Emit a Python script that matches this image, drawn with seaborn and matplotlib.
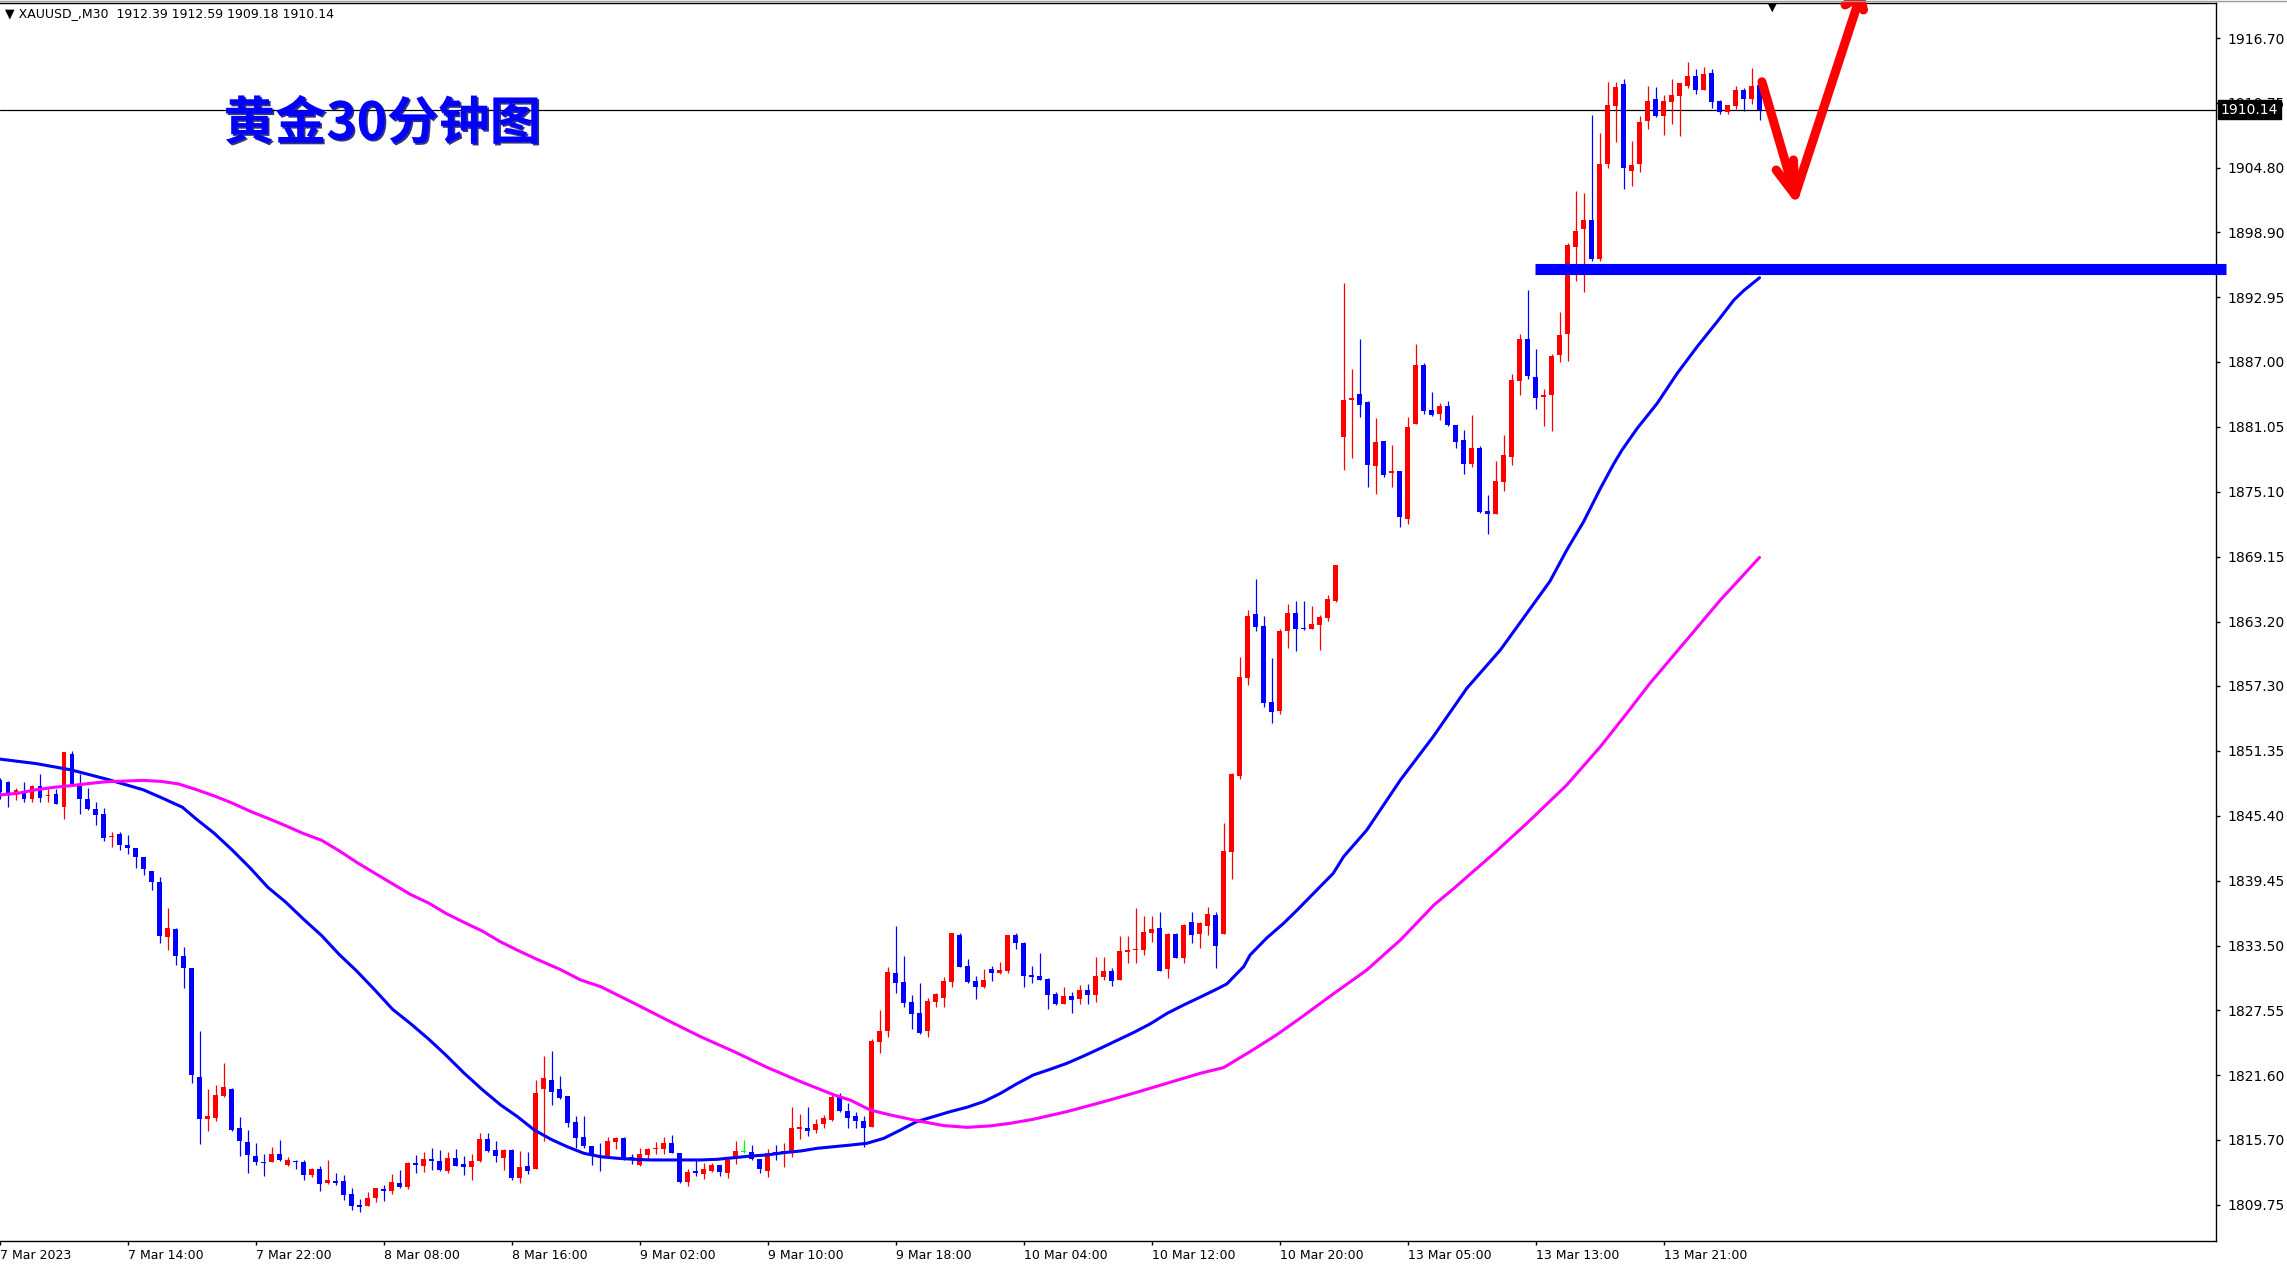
import numpy as np
import pandas as pd
import matplotlib
matplotlib.use('Agg')
import matplotlib.pyplot as plt
import matplotlib.transforms as mtransforms
import matplotlib.patheffects as pe
from matplotlib.lines import Line2D
import seaborn as sns

sns.set_style('white')
plt.rcParams['font.family'] = ['DejaVu Sans', 'Noto Sans CJK SC']

# ── DATA: XAUUSD M30 candles, 7 Mar 06:00 -> 14 Mar 03:00 ──
opens = [1848.70, 1848.48, 1847.30, 1847.62, 1846.97, 1848.10, 1847.17, 1847.39, 1846.24, 1851.08,
         1848.10, 1846.97, 1846.02, 1845.54, 1843.46, 1843.71, 1842.73, 1842.47, 1841.65, 1840.36,
         1839.31, 1834.29, 1835.00, 1832.57, 1831.48, 1821.43, 1817.63, 1817.73, 1819.73, 1820.36,
         1816.77, 1815.48, 1814.21, 1813.65, 1813.68, 1814.35, 1813.42, 1813.74, 1813.65, 1812.43,
         1813.00, 1811.76, 1811.91, 1811.91, 1810.76, 1809.74, 1809.58, 1810.38, 1811.15, 1811.02,
         1811.73, 1811.40, 1813.52, 1813.33, 1813.91, 1813.74, 1812.87, 1814.02, 1813.49, 1813.16,
         1813.74, 1815.75, 1814.76, 1814.05, 1814.75, 1812.22, 1813.29, 1812.98, 1820.32, 1821.17,
         1820.35, 1819.71, 1817.32, 1815.95, 1815.12, 1814.24, 1814.14, 1815.52, 1815.85, 1814.14,
         1813.38, 1814.30, 1814.85, 1814.88, 1815.40, 1814.45, 1811.85, 1812.83, 1812.59, 1812.83,
         1813.38, 1812.68, 1814.14, 1814.60, 1814.60, 1813.90, 1812.86, 1814.54, 1814.51, 1814.51,
         1816.65, 1816.77, 1816.59, 1817.11, 1817.50, 1819.58, 1818.33, 1817.87, 1817.41, 1816.89,
         1824.69, 1825.70, 1830.95, 1830.16, 1828.33, 1827.35, 1825.70, 1828.36, 1828.72, 1830.19,
         1834.47, 1831.63, 1830.25, 1829.67, 1831.35, 1831.01, 1831.20, 1834.47, 1833.76, 1830.80,
         1830.71, 1830.46, 1829.06, 1828.14, 1828.87, 1828.60, 1829.43, 1828.97, 1830.59, 1831.17,
         1830.34, 1832.94, 1833.12, 1833.09, 1834.68, 1835.08, 1831.32, 1834.56, 1832.39, 1835.63,
         1834.56, 1835.29, 1836.30, 1834.53, 1842.11, 1849.07, 1858.06, 1863.90, 1862.80, 1855.80,
         1855.03, 1862.37, 1864.02, 1862.61, 1862.52, 1862.89, 1863.56, 1865.09, 1880.15, 1883.54,
         1884.06, 1883.36, 1877.46, 1879.75, 1876.78, 1877.03, 1872.63, 1881.28, 1886.72, 1882.59,
         1882.22, 1882.96, 1881.22, 1879.84, 1877.64, 1879.11, 1873.30, 1873.06, 1876.02, 1878.31,
         1885.28, 1889.10, 1885.62, 1883.81, 1883.97, 1887.63, 1889.56, 1897.57, 1899.16, 1900.02,
         1896.44, 1905.12, 1910.50, 1912.49, 1904.54, 1905.12, 1909.12, 1911.08, 1909.58, 1910.87,
         1911.42, 1912.33, 1913.22, 1911.94, 1913.46, 1910.93, 1909.95, 1910.50, 1911.94, 1911.11,
         1912.39]
highs = [1848.90, 1848.58, 1847.94, 1848.48, 1848.25, 1849.22, 1847.85, 1847.85, 1851.20, 1851.29,
         1849.22, 1847.94, 1846.66, 1846.12, 1843.94, 1843.88, 1843.63, 1842.47, 1841.65, 1840.36,
         1839.79, 1836.98, 1835.12, 1833.33, 1831.48, 1825.63, 1820.36, 1820.70, 1822.71, 1820.46,
         1817.79, 1816.61, 1815.40, 1814.38, 1815.02, 1815.67, 1814.13, 1813.84, 1813.84, 1813.10,
         1813.33, 1813.84, 1812.61, 1812.46, 1811.27, 1810.25, 1810.87, 1811.27, 1811.56, 1812.54,
         1812.93, 1813.65, 1814.28, 1814.54, 1814.92, 1814.76, 1814.61, 1814.86, 1814.21, 1814.38,
         1816.29, 1816.29, 1815.60, 1814.82, 1814.82, 1814.66, 1814.60, 1821.17, 1823.37, 1823.83,
         1821.54, 1819.71, 1817.87, 1817.87, 1815.12, 1815.43, 1815.95, 1815.95, 1815.95, 1814.39,
         1814.91, 1814.97, 1815.46, 1815.98, 1816.13, 1814.51, 1812.98, 1813.84, 1813.53, 1813.59,
         1813.38, 1814.08, 1815.58, 1815.67, 1815.21, 1813.96, 1814.85, 1815.21, 1815.37, 1818.73,
         1818.03, 1818.73, 1817.57, 1817.96, 1819.95, 1819.95, 1819.09, 1818.21, 1817.87, 1824.90,
         1827.59, 1831.50, 1835.29, 1832.54, 1828.97, 1830.10, 1828.72, 1829.18, 1830.59, 1834.68,
         1834.68, 1832.27, 1830.71, 1831.35, 1831.63, 1831.99, 1834.47, 1834.62, 1833.86, 1831.63,
         1832.85, 1830.53, 1829.24, 1829.73, 1829.27, 1829.88, 1829.97, 1832.42, 1832.42, 1831.41,
         1834.38, 1834.38, 1836.91, 1836.21, 1836.21, 1836.55, 1834.68, 1834.68, 1835.48, 1836.55,
         1835.63, 1837.00, 1836.55, 1844.70, 1849.29, 1859.98, 1864.26, 1867.10, 1863.71, 1859.89,
         1862.49, 1864.81, 1865.09, 1865.09, 1864.63, 1863.80, 1865.64, 1868.39, 1894.20, 1886.35,
         1889.10, 1883.45, 1881.89, 1879.75, 1879.38, 1877.03, 1881.98, 1888.64, 1886.93, 1884.27,
         1883.26, 1883.42, 1881.22, 1880.76, 1882.13, 1879.29, 1874.80, 1877.92, 1880.30, 1885.89,
         1889.56, 1893.59, 1888.18, 1884.52, 1887.72, 1891.61, 1897.94, 1902.68, 1902.46, 1909.64,
         1907.96, 1912.70, 1912.70, 1912.94, 1907.26, 1909.58, 1912.30, 1912.18, 1911.48, 1912.94,
         1912.61, 1914.47, 1913.83, 1914.01, 1913.83, 1911.02, 1910.53, 1912.30, 1912.15, 1913.98,
         1912.59]
lows = [1846.90, 1846.24, 1846.82, 1846.66, 1846.66, 1846.66, 1846.66, 1846.43, 1845.06, 1848.32,
        1845.60, 1845.92, 1844.51, 1843.05, 1842.50, 1842.28, 1841.87, 1840.59, 1840.01, 1838.57,
        1833.72, 1833.07, 1831.70, 1829.57, 1820.93, 1815.33, 1816.51, 1817.41, 1819.59, 1816.51,
        1814.21, 1812.61, 1813.42, 1812.36, 1813.68, 1813.71, 1813.25, 1813.00, 1811.98, 1812.24,
        1811.02, 1811.66, 1811.56, 1810.21, 1809.26, 1809.10, 1809.58, 1809.97, 1810.06, 1810.70,
        1811.24, 1811.17, 1812.61, 1812.77, 1812.93, 1812.87, 1812.61, 1813.26, 1812.46, 1811.98,
        1813.65, 1814.54, 1813.65, 1812.92, 1812.00, 1811.76, 1812.52, 1812.98, 1815.58, 1818.88,
        1819.40, 1816.89, 1814.97, 1814.91, 1813.38, 1812.83, 1814.14, 1814.88, 1813.84, 1813.50,
        1813.32, 1814.05, 1814.36, 1814.36, 1814.51, 1811.76, 1811.48, 1812.40, 1812.13, 1812.77,
        1812.40, 1812.22, 1813.44, 1814.45, 1813.84, 1812.68, 1812.31, 1813.81, 1813.23, 1814.14,
        1815.79, 1816.07, 1816.28, 1816.80, 1817.44, 1818.21, 1816.80, 1816.80, 1815.06, 1816.89,
        1823.62, 1825.15, 1829.12, 1827.84, 1825.85, 1825.39, 1825.15, 1827.84, 1827.90, 1829.73,
        1831.56, 1830.04, 1828.63, 1829.64, 1830.28, 1830.86, 1830.95, 1833.18, 1829.73, 1830.10,
        1830.34, 1827.71, 1828.05, 1828.14, 1827.35, 1828.14, 1828.14, 1828.36, 1830.34, 1829.79,
        1830.34, 1831.93, 1831.93, 1832.63, 1833.86, 1831.20, 1830.56, 1832.33, 1831.87, 1833.76,
        1833.31, 1834.47, 1831.47, 1834.53, 1839.60, 1848.74, 1857.39, 1862.37, 1855.40, 1853.87,
        1854.70, 1860.81, 1860.53, 1862.43, 1862.52, 1860.60, 1863.28, 1865.03, 1877.09, 1878.22,
        1881.98, 1875.56, 1874.89, 1876.48, 1875.56, 1871.90, 1872.14, 1881.28, 1882.22, 1882.07,
        1881.67, 1881.15, 1879.14, 1876.72, 1877.40, 1873.12, 1871.22, 1873.06, 1875.17, 1877.55,
        1883.97, 1885.43, 1882.71, 1881.15, 1880.67, 1887.02, 1887.08, 1894.46, 1893.39, 1896.29,
        1896.29, 1904.75, 1907.20, 1902.86, 1903.17, 1904.45, 1908.36, 1909.43, 1907.81, 1908.82,
        1907.75, 1912.09, 1911.54, 1911.94, 1910.32, 1909.74, 1909.74, 1910.19, 1910.04, 1910.65,
        1909.18]
closes = [1847.60, 1847.52, 1847.78, 1846.97, 1848.15, 1847.07, 1847.24, 1846.43, 1851.20, 1848.32,
          1846.97, 1846.02, 1845.47, 1843.40, 1843.53, 1842.76, 1842.41, 1841.58, 1840.49, 1839.31,
          1834.35, 1835.12, 1832.53, 1831.40, 1821.63, 1817.63, 1817.83, 1819.79, 1820.52, 1816.61,
          1815.55, 1814.28, 1813.65, 1813.55, 1814.35, 1813.84, 1813.84, 1813.65, 1812.43, 1813.00,
          1811.66, 1811.98, 1811.76, 1810.59, 1809.58, 1809.55, 1810.32, 1811.27, 1811.02, 1811.81,
          1811.34, 1813.58, 1813.42, 1813.91, 1813.74, 1812.93, 1814.02, 1813.33, 1813.20, 1813.74,
          1815.75, 1814.70, 1814.16, 1814.75, 1812.16, 1813.17, 1812.86, 1819.95, 1821.33, 1820.10,
          1819.55, 1817.26, 1815.89, 1815.15, 1814.20, 1814.08, 1815.58, 1815.85, 1813.84, 1813.96,
          1814.39, 1814.85, 1814.94, 1815.40, 1814.51, 1811.82, 1812.74, 1812.68, 1813.01, 1813.38,
          1812.77, 1813.84, 1814.66, 1814.60, 1813.90, 1813.04, 1814.51, 1814.42, 1814.66, 1816.74,
          1816.89, 1816.53, 1817.14, 1817.72, 1819.58, 1818.36, 1817.72, 1817.44, 1816.80, 1824.75,
          1825.66, 1831.08, 1830.10, 1828.26, 1827.22, 1825.45, 1828.45, 1829.09, 1830.25, 1834.68,
          1831.56, 1830.19, 1829.73, 1830.34, 1831.01, 1831.26, 1834.47, 1833.70, 1830.71, 1830.65,
          1830.34, 1828.97, 1828.14, 1828.87, 1828.51, 1829.43, 1828.97, 1830.71, 1831.17, 1830.25,
          1833.00, 1833.09, 1833.18, 1834.77, 1835.02, 1831.20, 1834.56, 1832.33, 1835.38, 1834.47,
          1835.60, 1836.39, 1833.46, 1842.17, 1849.23, 1858.15, 1863.71, 1862.73, 1855.77, 1854.94,
          1862.37, 1864.02, 1862.52, 1862.52, 1862.98, 1863.59, 1865.27, 1868.39, 1883.51, 1883.72,
          1883.05, 1877.55, 1879.69, 1876.63, 1877.03, 1872.81, 1881.06, 1886.72, 1882.50, 1882.13,
          1882.96, 1881.25, 1879.69, 1877.64, 1879.11, 1873.21, 1873.06, 1876.11, 1878.47, 1885.34,
          1889.10, 1885.71, 1883.72, 1883.97, 1887.54, 1889.47, 1897.73, 1899.01, 1900.02, 1896.44,
          1905.15, 1910.56, 1912.18, 1904.75, 1905.06, 1908.97, 1910.93, 1909.58, 1910.93, 1911.48,
          1912.61, 1913.22, 1911.94, 1913.40, 1910.87, 1909.95, 1910.53, 1911.94, 1911.11, 1912.30,
          1910.14]

# moving averages (bar position, price)
ma_fast_bar = [0, 4.5, 8.9, 13.4, 17.9, 20.1, 22.8, 24.6, 26.8, 29.0, 31.3, 33.5, 35.7, 37.9, 40.2,
               42.4, 44.6, 46.9, 49.1, 51.3, 53.6, 55.8, 58.0, 60.3, 62.6, 64.7, 66.8, 68.9, 70.9,
               73.0, 75.1, 77.2, 79.3, 81.4, 83.4, 85.5, 87.6, 89.7, 91.8, 93.9, 95.9, 98.0, 100.1,
               102.2, 104.3, 106.4, 108.4, 110.5, 112.6, 114.6, 116.7, 118.8, 120.9, 123.0, 125.1,
               127.1, 129.2, 131.3, 133.4, 135.5, 137.6, 139.6, 141.7, 143.8, 145.9, 148.0, 150.1,
               152.1, 153.4, 154.2, 155.5, 156.3, 158.4, 160.5, 162.2, 166.7, 168.0, 170.9, 175.1,
               179.2, 183.4, 187.6, 189.7, 193.8, 195.9, 198.0, 200.1, 201.8, 202.8, 204.7, 207.2,
               209.7, 212.2, 214.7, 216.8, 218.0, 220.0]
ma_fast_val = [1850.59, 1850.18, 1849.60, 1848.74, 1847.78, 1847.08, 1846.18, 1845.06, 1843.78,
               1842.28, 1840.59, 1838.83, 1837.49, 1835.95, 1834.42, 1832.69, 1831.16, 1829.40,
               1827.64, 1826.36, 1824.92, 1823.42, 1821.82, 1820.29, 1818.88, 1817.81, 1816.59,
               1815.73, 1815.06, 1814.45, 1814.14, 1813.99, 1813.90, 1813.84, 1813.84, 1813.84,
               1813.84, 1813.90, 1814.05, 1814.20, 1814.30, 1814.51, 1814.66, 1814.91, 1815.06,
               1815.21, 1815.37, 1815.82, 1816.59, 1817.35, 1817.81, 1818.27, 1818.67, 1819.19,
               1819.95, 1820.81, 1821.63, 1822.15, 1822.70, 1823.37, 1824.08, 1824.78, 1825.51,
               1826.31, 1827.27, 1828.05, 1828.78, 1829.49, 1829.98, 1830.59, 1831.56, 1832.63,
               1834.20, 1835.54, 1836.76, 1840.12, 1841.65, 1844.09, 1848.68, 1852.65, 1857.08,
               1860.60, 1862.73, 1866.90, 1869.76, 1872.35, 1875.40, 1877.70, 1878.92, 1880.91,
               1883.20, 1885.95, 1888.40, 1890.69, 1892.68, 1893.53, 1894.72]
ma_slow_bar = [0, 2.2, 4.5, 6.7, 8.9, 11.2, 13.4, 15.6, 17.9, 20.1, 22.3, 24.6, 26.8, 29.0, 31.3,
               33.5, 35.7, 37.9, 40.2, 42.4, 44.6, 46.9, 49.1, 51.3, 53.6, 55.8, 58.0, 60.3, 62.5,
               64.7, 67.0, 70.0, 72.6, 75.1, 79.3, 83.4, 87.6, 91.8, 95.9, 100.1, 104.3, 106.4,
               108.8, 111.3, 114.6, 118.0, 120.9, 123.8, 126.3, 129.2, 133.4, 137.6, 141.7, 145.9,
               150.1, 153.0, 156.3, 159.6, 162.4, 166.7, 170.9, 175.1, 179.3, 181.8, 186.8, 190.9,
               195.9, 200.1, 203.4, 206.3, 215.1, 220.0]
ma_slow_val = [1847.30, 1847.46, 1847.78, 1848.00, 1848.16, 1848.36, 1848.52, 1848.58, 1848.64,
               1848.55, 1848.32, 1847.78, 1847.21, 1846.57, 1845.80, 1845.16, 1844.49, 1843.78,
               1843.15, 1842.19, 1841.13, 1840.11, 1839.15, 1838.19, 1837.39, 1836.43, 1835.63,
               1834.83, 1833.87, 1833.07, 1832.28, 1831.32, 1830.34, 1829.73, 1828.20, 1826.67,
               1825.14, 1823.77, 1822.33, 1821.02, 1819.80, 1819.30, 1818.42, 1817.97, 1817.45,
               1816.99, 1816.83, 1816.96, 1817.20, 1817.57, 1818.27, 1819.10, 1819.95, 1820.87,
               1821.79, 1822.31, 1823.77, 1825.30, 1826.75, 1829.06, 1831.26, 1834.01, 1837.22,
               1838.75, 1841.95, 1844.70, 1848.22, 1851.73, 1854.79, 1857.54, 1865.17, 1869.08]

time_ticks = [0, 16, 32, 48, 64, 80, 96, 112, 128, 144, 160, 176, 192, 208]
time_labels = ['7 Mar 2023', '7 Mar 14:00', '7 Mar 22:00', '8 Mar 08:00', '8 Mar 16:00',
               '9 Mar 02:00', '9 Mar 10:00', '9 Mar 18:00', '10 Mar 04:00', '10 Mar 12:00',
               '10 Mar 20:00', '13 Mar 05:00', '13 Mar 13:00', '13 Mar 21:00']
price_ticks = [1916.70, 1910.75, 1904.80, 1898.90, 1892.95, 1887.00, 1881.05, 1875.10, 1869.15,
               1863.20, 1857.30, 1851.35, 1845.40, 1839.45, 1833.50, 1827.55, 1821.60, 1815.70,
               1809.75]

last_price = 1910.14
support_level = 1895.55
support_span = [191.95, 278.3]
arrow_path_x = [220.3, 224.45, 232.6]
arrow_path_y = [1912.69, 1902.31, 1920.55]
arrow_head_low_x = [222.08, 224.45, 224.24]
arrow_head_low_y = [1904.60, 1902.31, 1905.52]
arrow_head_top_x = [230.7, 232.6, 233.0]
arrow_head_top_y = [1919.73, 1920.55, 1919.27]
title = '黄金30分钟图'
header = '▼ XAUUSD_,M30  1912.39 1912.59 1909.18 1910.14'

C_UP, C_DN, C_DOJI = '#FF0000', '#0000FF', '#00FF00'

# ── FIGURE ──
W, H = 2287, 1268
fig = plt.figure(figsize=(W / 100, H / 100), dpi=100)
fig.patch.set_facecolor('white')
ax = fig.add_axes([0, 27 / H, 2216 / W, 1238 / H])
ax.set_facecolor('white')

df = pd.DataFrame({'open': opens, 'high': highs, 'low': lows, 'close': closes})
df['bar'] = np.arange(len(df))
colors = np.where(df.close > df.open, C_UP, np.where(df.close < df.open, C_DN, C_DOJI))

# candles
ax.vlines(df.bar, df.low, df.high, colors=colors, linewidth=0.9, zorder=2)
body_low = np.minimum(df.open, df.close)
body_h = np.maximum((df.close - df.open).abs(), 0.1)
ax.bar(df.bar, body_h, bottom=body_low, width=0.62, color=colors, linewidth=0, zorder=2)

# moving averages
ma_df = pd.concat([
    pd.DataFrame({'bar': ma_fast_bar, 'price': ma_fast_val, 'ma': 'fast'}),
    pd.DataFrame({'bar': ma_slow_bar, 'price': ma_slow_val, 'ma': 'slow'}),
])
sns.lineplot(data=ma_df, x='bar', y='price', hue='ma', palette={'fast': '#0000FF', 'slow': '#FF00FF'},
             estimator=None, sort=False, legend=False, linewidth=2.2, ax=ax, zorder=3)

# current price line
ax.axhline(last_price, color='black', linewidth=0.9, zorder=1)

# support bar
ax.plot(support_span, [support_level, support_level], color='#0000FF', linewidth=8,
        solid_capstyle='butt', clip_on=False, zorder=5)

# red hand-drawn arrow
for xs, ys in [(arrow_path_x, arrow_path_y), (arrow_head_low_x, arrow_head_low_y),
               (arrow_head_top_x, arrow_head_top_y)]:
    ax.plot(xs, ys, color='#FF0000', linewidth=6.5, solid_capstyle='round',
            solid_joinstyle='round', clip_on=False, zorder=7)

# title
ax.text(47.8, 1908.85, title, fontsize=37, fontweight='bold', color='#0000FF',
        ha='center', va='center', family=['Noto Sans CJK SC', 'DejaVu Sans'], zorder=6,
        path_effects=[pe.withSimplePatchShadow(offset=(1.2, -1.2), shadow_rgbFace='#000060', alpha=0.8)])

# axes
ax.set_xlim(0.075, 277.075)
ax.set_ylim(1806.41, 1919.91)
ax.set_xlabel('')
ax.set_ylabel('')
ax.yaxis.tick_right()
ax.set_yticks(price_ticks)
ax.set_yticklabels([f'{p:.2f}' for p in price_ticks])
ax.set_xticks(time_ticks)
ax.set_xticklabels(time_labels, ha='left')
ax.tick_params(axis='y', direction='out', length=3, width=1, pad=5, labelsize=10, colors='black',
               right=True, left=False)
ax.tick_params(axis='x', direction='out', length=3, width=1, pad=3, labelsize=9, colors='black',
               bottom=True)
for side in ['top', 'right', 'bottom']:
    ax.spines[side].set_visible(True)
    ax.spines[side].set_color('black')
    ax.spines[side].set_linewidth(1.0)
ax.spines['left'].set_visible(False)
ax.grid(False)

# price box (covers the 1910.75 label, as in the terminal)
trans = mtransforms.blended_transform_factory(ax.transAxes, ax.transData)
ax.text(1.0022, last_price, f'{last_price:.2f}', transform=trans, fontsize=10, color='white',
        ha='left', va='center', clip_on=False, zorder=8,
        bbox=dict(boxstyle='square,pad=0.2', facecolor='black', edgecolor='black'))

# header + window border + shift marker
fig.text(5 / W, 1 - 14 / H, header, fontsize=9, ha='left', va='center', color='black')
fig.text(1772 / W, 1 - 8 / H, '▼', fontsize=8, ha='center', va='center', color='black')
fig.add_artist(Line2D([0, 1], [1 - 0.8 / H, 1 - 0.8 / H], color='#9a9a9a', linewidth=1))

fig.savefig('out.png', dpi=100)
